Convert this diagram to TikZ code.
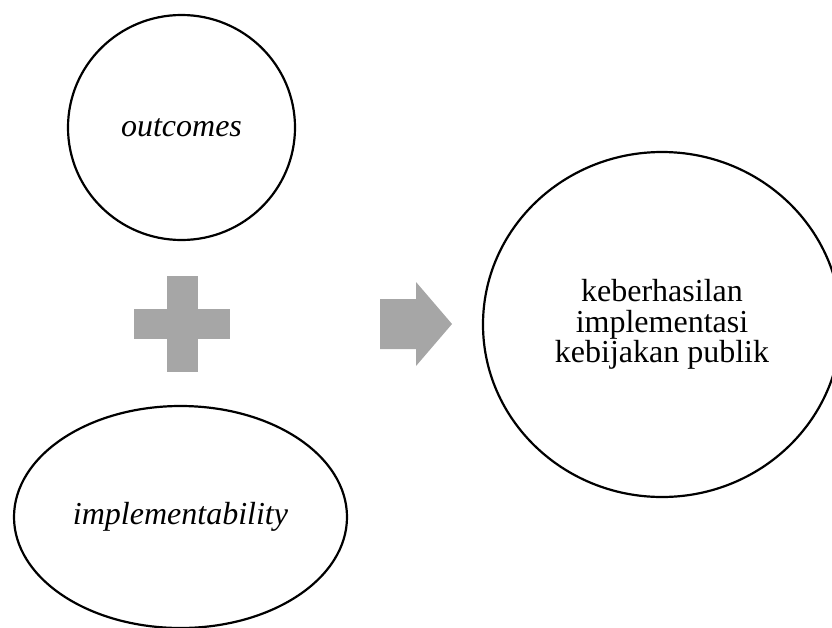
\documentclass[tikz,border=0pt]{standalone}
\usepackage{fontspec}
\setmainfont{Liberation Serif}
\usetikzlibrary{shapes.geometric}
\definecolor{signgray}{RGB}{166,166,166}
\tikzset{
    vertex/.style={ellipse,draw,line width=2.2pt,inner sep=0pt,align=center,font=\fontsize{32}{30.5}\selectfont},
    sign/.style={fill=signgray,draw=none}
    }

\begin{document}
\begin{tikzpicture}[x=1pt,y=-1pt]
        \useasboundingbox (0,0) rectangle (832,627);

        % vertices
        \node[vertex, minimum width=227pt, minimum height=225pt] (out) at (181.5,127.5) {\textit{outcomes}};
        \node[vertex, minimum width=333pt, minimum height=222pt] (impl) at (180.5,517) {\textit{implementability}};
        \node[vertex, minimum width=358pt, minimum height=345pt] (hasil) at (662,324.5) {keberhasilan\\implementasi\\kebijakan publik};

        % plus and arrow
        \coordinate (plus) at (182,324);
        \coordinate (tip) at (452,324);
        \fill[sign] ([xshift=-48pt,yshift=-15pt]plus) rectangle ([xshift=48pt,yshift=15pt]plus);
        \fill[sign] ([xshift=-15.5pt,yshift=-48pt]plus) rectangle ([xshift=15.5pt,yshift=48pt]plus);
        \fill[sign] (tip) -- (416,366) -- (416,349) -- (380,349) -- (380,299) -- (416,299) -- (416,282) -- cycle;
    \end{tikzpicture}
\end{document}
